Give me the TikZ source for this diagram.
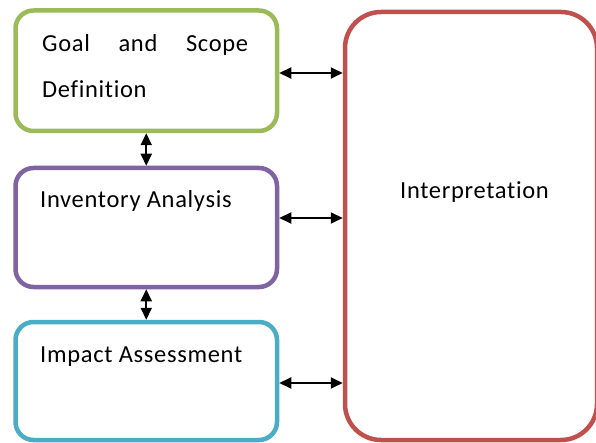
\documentclass[tikz,border=0pt]{standalone}
\usepackage{fontspec}
\setmainfont{Carlito}[LetterSpace=2.8, Ligatures=CommonOff]
\usetikzlibrary{arrows.meta}
\definecolor{lcagreen}{HTML}{9BBB59}
\definecolor{lcapurple}{HTML}{8064A2}
\definecolor{lcablue}{HTML}{4BACC6}
\definecolor{lcared}{HTML}{C0504D}
\begin{document}
\begin{tikzpicture}[x=1pt,y=-1pt,
  phase/.style={draw=#1, line width=4.5pt, rounded corners=18pt, fill=white,
    minimum width=261.5pt, inner sep=0pt},
  label/.style={anchor=base west, inner sep=0pt,
    font=\fontsize{24.5}{29}\selectfont},
  link/.style={{Triangle[length=12pt,width=11pt]}-{Triangle[length=12pt,width=11pt]},
    line width=2pt, black}]
\useasboundingbox (0,0) rectangle (596,443);

% the three phases on the left
\node[phase=lcagreen, minimum height=120.5pt] (goal) at (146.25,70.75) {};
\node[phase=lcapurple, minimum height=119pt] (inv) at (146.25,227.5) {};
\node[phase=lcablue, minimum height=118pt] (imp) at (146.25,381) {};

% interpretation frame on the right
\node[draw=lcared, line width=4.5pt, rounded corners=36pt, fill=white,
  minimum width=252pt, minimum height=428pt, inner sep=0pt] (interp) at (471,226) {};

% labels
\node[label] (goalA) at (42,52) {\makebox[206pt][s]{Goal\hfill and\hfill Scope}};
\node[label] (goalB) at (42,98) {Definition};
\node[label] (invT) at (40,208) {Inventory Analysis};
\node[label] (impT) at (40,362) {Impact Assessment};
\node[anchor=base, inner sep=0pt, font=\fontsize{24.5}{29}\selectfont] (intT) at (474.5,199) {Interpretation};

% links between phases
\draw[link] (goal.south) -- (inv.north);
\draw[link] (inv.south) -- (imp.north);
\draw[link] (goal.east |- 0,73) -- (interp.west |- 0,73);
\draw[link] (inv.east |- 0,218) -- (interp.west |- 0,218);
\draw[link] (imp.east |- 0,383) -- (interp.west |- 0,383);
\end{tikzpicture}
\end{document}
